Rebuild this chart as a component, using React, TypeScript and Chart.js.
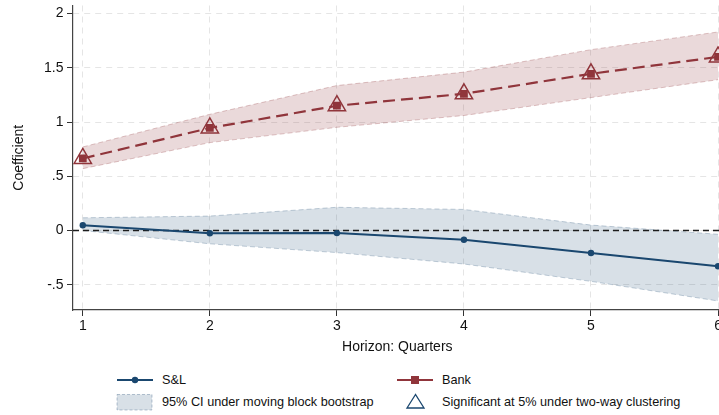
import React, { useEffect, useRef } from 'react';
import { Chart, registerables } from 'chart.js';

Chart.register(...registerables);

// Forecast horizons (quarters)
const horizons = [1, 2, 3, 4, 5, 6];

// S&L coefficient and 95% band
const slCoef = [0.048, -0.025, -0.024, -0.086, -0.207, -0.33];
const slUpper = [0.117, 0.133, 0.214, 0.194, 0.05, -0.035];
const slLower = [0.0, -0.123, -0.204, -0.309, -0.469, -0.65];

// Bank coefficient and 95% band
const bankCoef = [0.664, 0.945, 1.15, 1.26, 1.444, 1.6];
const bankUpper = [0.77, 1.071, 1.336, 1.46, 1.667, 1.83];
const bankLower = [0.57, 0.81, 0.951, 1.06, 1.225, 1.39];

// Horizons where the bank estimate is significant under two-way clustering
const bankSignificant = [1, 2, 3, 4, 5, 6];

// Axis ticks
const yTickValues = [-0.5, 0, 0.5, 1, 1.5, 2];
const yTickLabels = ['-.5', '0', '.5', '1', '1.5', '2'];

const X_MIN = 0.923;
const X_MAX = 6.028;
const Y_MIN = -0.733;
const Y_MAX = 2.074;

const BANK = '#90353b';
const SL = '#1a476f';
const FONT = '"Liberation Sans", Arial, Helvetica, sans-serif';
const TEXT = '#111111';

const CANVAS_W = 740;
const CANVAS_H = 366;
const CANVAS_TOP = -6;

const toPoints = (ys: number[]) => horizons.map((x, i) => ({ x, y: ys[i] }));

export default function App() {
  const canvasRef = useRef<HTMLCanvasElement | null>(null);

  useEffect(() => {
    document.documentElement.style.overflow = 'hidden';
    document.body.style.overflow = 'hidden';
    const canvas = canvasRef.current;
    if (!canvas) return;

    const sigPoints = horizons
      .map((x, i) => ({ x, y: bankCoef[i] }))
      .filter((p) => bankSignificant.includes(p.x));

    const chart = new Chart(canvas, {
      type: 'line',
      data: {
        datasets: [
          {
            label: 'Bank CI upper',
            data: toPoints(bankUpper),
            borderColor: 'rgba(144,53,59,0.28)',
            borderWidth: 1,
            borderDash: [5, 3],
            backgroundColor: 'rgba(144,53,59,0.19)',
            fill: '+1',
            pointRadius: 0,
            order: 7,
          },
          {
            label: 'Bank CI lower',
            data: toPoints(bankLower),
            borderColor: 'rgba(144,53,59,0.28)',
            borderWidth: 1,
            borderDash: [5, 3],
            fill: false,
            pointRadius: 0,
            order: 6,
          },
          {
            label: 'S&L CI upper',
            data: toPoints(slUpper),
            borderColor: 'rgba(26,71,111,0.25)',
            borderWidth: 1,
            borderDash: [5, 3],
            backgroundColor: 'rgba(26,71,111,0.17)',
            fill: '+1',
            pointRadius: 0,
            order: 5,
          },
          {
            label: 'S&L CI lower',
            data: toPoints(slLower),
            borderColor: 'rgba(26,71,111,0.25)',
            borderWidth: 1,
            borderDash: [5, 3],
            fill: false,
            pointRadius: 0,
            order: 4,
          },
          {
            label: 'zero',
            data: [
              { x: X_MIN, y: 0 },
              { x: X_MAX, y: 0 },
            ],
            borderColor: '#1c1c1c',
            borderWidth: 1.4,
            borderDash: [6, 4],
            fill: false,
            pointRadius: 0,
            order: 3,
          },
          {
            label: 'S&L',
            data: toPoints(slCoef),
            borderColor: SL,
            borderWidth: 2,
            pointStyle: 'circle',
            pointRadius: 3.2,
            pointBackgroundColor: SL,
            pointBorderColor: SL,
            pointBorderWidth: 0,
            fill: false,
            order: 2,
          },
          {
            label: 'Bank',
            data: toPoints(bankCoef),
            borderColor: BANK,
            borderWidth: 2.2,
            borderDash: [12, 6],
            pointStyle: 'rect',
            pointRadius: 5.5,
            pointBackgroundColor: BANK,
            pointBorderColor: BANK,
            pointBorderWidth: 0,
            fill: false,
            order: 1,
          },
          {
            label: 'Significant',
            data: sigPoints,
            showLine: false,
            pointStyle: 'triangle',
            pointRadius: 10,
            pointBackgroundColor: 'rgba(0,0,0,0)',
            pointBorderColor: BANK,
            pointBorderWidth: 1.5,
            order: 0,
          },
        ],
      },
      options: {
        animation: false,
        responsive: false,
        devicePixelRatio: 1,
        events: [],
        layout: { padding: { top: 5, left: 0, right: 18.4, bottom: 0 } },
        plugins: {
          legend: { display: false },
          tooltip: { enabled: false },
        },
        scales: {
          x: {
            type: 'linear',
            min: X_MIN,
            max: X_MAX,
            afterBuildTicks: (s: any) => {
              s.ticks = horizons.map((v) => ({ value: v }));
            },
            afterFit: (s: any) => {
              s.height = 50;
              s.paddingLeft = 0;
              s.paddingRight = 0;
            },
            ticks: {
              callback: (v: any) => String(v),
              font: { family: FONT, size: 14 },
              color: TEXT,
              padding: 2,
              maxRotation: 0,
              autoSkip: false,
            },
            grid: {
              color: '#e5e5e5',
              lineWidth: 1,
              tickColor: '#333333',
              tickLength: 6,
              tickWidth: 1,
              tickBorderDash: [],
            },
            border: { display: true, color: '#444444', width: 1.2, dash: [6, 5] },
            title: {
              display: true,
              text: 'Horizon: Quarters',
              font: { family: FONT, size: 14 },
              color: TEXT,
              padding: { top: 0, bottom: 4.6 },
            },
          },
          y: {
            type: 'linear',
            min: Y_MIN,
            max: Y_MAX,
            afterBuildTicks: (s: any) => {
              s.ticks = yTickValues.map((v) => ({ value: v }));
            },
            afterFit: (s: any) => {
              s.width = 73;
              s.paddingTop = 0;
              s.paddingBottom = 0;
            },
            ticks: {
              callback: (_v: any, i: number) => yTickLabels[i],
              font: { family: FONT, size: 14 },
              color: TEXT,
              padding: 3.5,
            },
            grid: {
              color: '#e5e5e5',
              lineWidth: 1,
              tickColor: '#333333',
              tickLength: 6,
              tickWidth: 1,
              tickBorderDash: [],
            },
            border: { display: true, color: '#444444', width: 1.2, dash: [6, 5] },
            title: {
              display: true,
              text: 'Coefficient',
              font: { family: FONT, size: 14 },
              color: TEXT,
              padding: { top: 11, bottom: 0 },
            },
          },
        },
      },
    } as any);

    return () => chart.destroy();
  }, []);

  const legendText: React.CSSProperties = {
    position: 'absolute',
    fontFamily: FONT,
    fontSize: 12.7,
    lineHeight: '16px',
    color: TEXT,
    whiteSpace: 'nowrap',
  };

  return (
    <div
      style={{
        position: 'fixed',
        left: 0,
        top: 0,
        width: CANVAS_W,
        height: 415,
        background: '#ffffff',
        overflow: 'hidden',
      }}
    >
      <canvas
        ref={canvasRef}
        width={CANVAS_W}
        height={CANVAS_H}
        style={{ position: 'absolute', left: 0, top: CANVAS_TOP, width: CANVAS_W, height: CANVAS_H }}
      />
      <svg width={CANVAS_W} height={55} style={{ position: 'absolute', left: 0, top: 360 }}>
        <line x1={117} x2={153} y1={20} y2={20} stroke={SL} strokeWidth={2} />
        <circle cx={135} cy={20} r={3.2} fill={SL} />
        <line x1={397} x2={433} y1={20} y2={20} stroke={BANK} strokeWidth={2} />
        <rect x={411} y={16} width={8} height={8} fill={BANK} />
        <rect
          x={117}
          y={34.5}
          width={35}
          height={15.5}
          fill="rgba(26,71,111,0.17)"
          stroke="rgba(26,71,111,0.3)"
          strokeWidth={1}
          strokeDasharray="3 2"
        />
        <polygon points="415.5,34.5 407,48 424,48" fill="none" stroke={SL} strokeWidth={1.3} />
      </svg>
      <div style={{ ...legendText, left: 162, top: 372 }}>S&amp;L</div>
      <div style={{ ...legendText, left: 442, top: 372 }}>Bank</div>
      <div style={{ ...legendText, left: 162, top: 394 }}>95% CI under moving block bootstrap</div>
      <div style={{ ...legendText, left: 442, top: 394 }}>Significant at 5% under two-way clustering</div>
    </div>
  );
}
